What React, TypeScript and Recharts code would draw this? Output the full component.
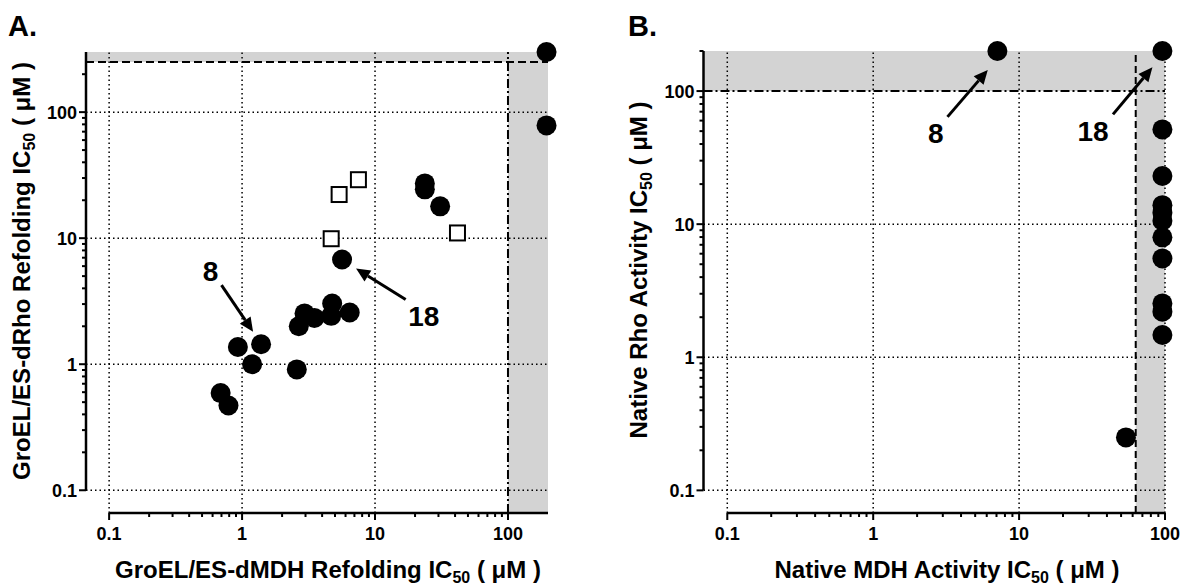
import { ScatterChart, Scatter, XAxis, YAxis, ReferenceLine, ReferenceArea, ReferenceDot } from 'recharts'

const FONT = '"Liberation Sans", Arial, Helvetica, sans-serif'
const GREY = '#d3d3d3'

// Panel A: GroEL/ES-dMDH (x) vs GroEL/ES-dRho (y) refolding IC50, uM
const aDotX = [0.69, 0.79, 0.93, 1.19, 1.39, 2.58, 2.67, 2.95, 3.5, 4.68, 4.76, 6.45, 5.65, 23.7, 23.7, 30.9, 195, 195]
const aDotY = [0.59, 0.47, 1.37, 1.0, 1.44, 0.91, 2.0, 2.53, 2.33, 2.42, 3.03, 2.57, 6.77, 27.2, 24.4, 17.9, 300, 78.5]
const aSquareX = [4.68, 5.37, 7.5, 41.7]
const aSquareY = [9.9, 22.2, 29.1, 11]

// Panel B: native MDH (x) vs native Rho (y) activity IC50, uM
const bDotX = [7.1, 96, 96, 96, 96, 96, 96, 96, 96, 96, 96, 96, 54]
const bDotY = [200, 200, 51.5, 23, 13.9, 12.2, 10.6, 7.96, 5.53, 2.54, 2.2, 1.47, 0.25]

// axes
const aXDomain = [0.067, 200]
const aYDomain = [0.066, 300]
const bXDomain = [0.0687, 100]
const bYDomain = [0.0676, 200]

const majorTicks = [0.1, 1, 10, 100]
const majorLabels = ['0.1', '1', '10', '100']
const ticksTo100 = [
  0.1, 0.2, 0.3, 0.4, 0.5, 0.6, 0.7, 0.8, 0.9,
  1, 2, 3, 4, 5, 6, 7, 8, 9,
  10, 20, 30, 40, 50, 60, 70, 80, 90,
  100,
]
const ticksTo200 = [...ticksTo100, 200]

// cut-offs / shaded regions
const aCutX = 100
const aCutY = 250
const bCutX = 63
const bCutY = 100

// annotations: [label x, label y], arrow tail -> tip
const aLabel8 = { x: 0.578, y: 5.4 }
const aArrow8 = [{ x: 0.7, y: 4.24 }, { x: 1.21, y: 1.81 }]
const aLabel18 = { x: 23.3, y: 2.38 }
const aArrow18 = [{ x: 17, y: 3.26 }, { x: 7.2, y: 5.74 }]
const bLabel8 = { x: 2.69, y: 48 }
const bArrow8 = [{ x: 3.23, y: 64 }, { x: 6.1, y: 144 }]
const bLabel18 = { x: 32.1, y: 49.4 }
const bArrow18 = [{ x: 44, y: 66.8 }, { x: 82, y: 150.7 }]

const zip = (xs: number[], ys: number[]) => xs.map((x, i) => ({ x, y: ys[i] }))

const labelOf = (v: number) => {
  const i = majorTicks.indexOf(v)
  return i >= 0 ? majorLabels[i] : null
}

const XTick = (p: any) => {
  const lab = labelOf(p.payload.value)
  return (
    <g>
      <line x1={p.x} x2={p.x} y1={p.y} y2={p.y + (lab ? 7 : 4)} stroke="#000" strokeWidth={2} />
      {lab && (
        <text x={p.x} y={p.y + 27} textAnchor="middle" fontFamily={FONT} fontWeight="bold" fontSize={18} fill="#000">
          {lab}
        </text>
      )}
    </g>
  )
}

const YTick = (p: any) => {
  const lab = labelOf(p.payload.value)
  return (
    <g>
      <line x1={p.x - (lab ? 7 : 4)} x2={p.x} y1={p.y} y2={p.y} stroke="#000" strokeWidth={2} />
      {lab && (
        <text x={p.x - 9} y={p.y + 6.5} textAnchor="end" fontFamily={FONT} fontWeight="bold" fontSize={18} fill="#000">
          {lab}
        </text>
      )}
    </g>
  )
}

const Dot = (p: any) => <circle cx={p.cx} cy={p.cy} r={10} fill="#000" />
const Square = (p: any) => (
  <rect x={p.cx - 7.5} y={p.cy - 7.5} width={15} height={15} fill="#fff" stroke="#000" strokeWidth={2} />
)

const Arrow = (p: any) => {
  const { x1, y1, x2, y2 } = p
  const a = Math.atan2(y2 - y1, x2 - x1)
  const len = 14
  const half = 6.5
  const bx = x2 - len * Math.cos(a)
  const by = y2 - len * Math.sin(a)
  const px = -Math.sin(a) * half
  const py = Math.cos(a) * half
  return (
    <g>
      <line x1={x1} y1={y1} x2={bx} y2={by} stroke="#000" strokeWidth={3} />
      <polygon points={`${x2},${y2} ${bx + px},${by + py} ${bx - px},${by - py}`} fill="#000" />
    </g>
  )
}

const numLabel = (txt: string) => (p: any) => (
  <text x={p.cx} y={p.cy} textAnchor="middle" dominantBaseline="central" fontFamily={FONT} fontWeight="bold" fontSize={28} fill="#000">
    {txt}
  </text>
)

const Title = ({ x, y, rotate, text }: { x: number; y: number; rotate?: boolean; text: string }) => (
  <text
    transform={`translate(${x},${y})${rotate ? ' rotate(-90)' : ''}`}
    textAnchor="middle"
    fontFamily={FONT}
    fontWeight="bold"
    fontSize={24}
    fill="#000"
  >
    {text}
    <tspan fontSize={16} dy={5}>50</tspan>
    <tspan dy={-5}> ( μM )</tspan>
  </text>
)

const PanelLetter = ({ x, text }: { x: number; text: string }) => (
  <text x={x} y={36} fontFamily={FONT} fontWeight="bold" fontSize={29} fill="#000">
    {text}
  </text>
)

const dotted = { stroke: '#000', strokeWidth: 1.5, strokeDasharray: '1.5 3' }

function PanelA() {
  return (
    <ScatterChart width={590} height={585} margin={{ top: 52, right: 42, bottom: 0, left: 0 }}>
      <XAxis
        type="number"
        dataKey="x"
        scale="log"
        domain={aXDomain}
        ticks={ticksTo100}
        interval={0}
        tickSize={0}
        tickMargin={0}
        tickLine={false}
        axisLine={false}
        tick={XTick}
        height={72}
        label={() => <Title x={328} y={578} text="GroEL/ES-dMDH Refolding IC" />}
      />
      <YAxis
        type="number"
        dataKey="y"
        scale="log"
        domain={aYDomain}
        ticks={ticksTo200}
        interval={0}
        tickSize={0}
        tickMargin={0}
        tickLine={false}
        axisLine={false}
        tick={YTick}
        width={86}
        label={() => (
          <g>
            <Title x={29.5} y={271} rotate text="GroEL/ES-dRho Refolding IC" />
            <PanelLetter x={8} text="A." />
          </g>
        )}
      />
      <ReferenceArea x1={aCutX} x2={aXDomain[1]} fill={GREY} fillOpacity={1} stroke="none" />
      <ReferenceArea y1={aCutY} y2={aYDomain[1]} fill={GREY} fillOpacity={1} stroke="none" />
      {[0.1, 1, 10].map((v) => (
        <ReferenceLine key={'gx' + v} x={v} {...dotted} />
      ))}
      {majorTicks.map((v) => (
        <ReferenceLine key={'gy' + v} y={v} {...dotted} />
      ))}
      <ReferenceLine x={aCutX} stroke="#000" strokeWidth={2} strokeDasharray="9 3 2 3" />
      <ReferenceLine y={aCutY} stroke="#000" strokeWidth={2} strokeDasharray="8 4" />
      <ReferenceLine
        segment={[{ x: 0.1, y: aYDomain[0] }, { x: aXDomain[1], y: aYDomain[0] }]}
        stroke="#000"
        strokeWidth={2.5}
      />
      <ReferenceLine
        segment={[{ x: aXDomain[0], y: 0.1 }, { x: aXDomain[0], y: aYDomain[1] }]}
        stroke="#000"
        strokeWidth={2.5}
      />
      <ReferenceLine segment={aArrow8} shape={Arrow} />
      <ReferenceLine segment={aArrow18} shape={Arrow} />
      <ReferenceDot x={aLabel8.x} y={aLabel8.y} shape={numLabel('8')} />
      <ReferenceDot x={aLabel18.x} y={aLabel18.y} shape={numLabel('18')} />
      <Scatter data={zip(aDotX, aDotY)} shape={Dot} isAnimationActive={false} />
      <Scatter data={zip(aSquareX, aSquareY)} shape={Square} isAnimationActive={false} />
    </ScatterChart>
  )
}

function PanelB() {
  return (
    <ScatterChart width={593} height={585} margin={{ top: 51, right: 18, bottom: 0, left: 0 }}>
      <XAxis
        type="number"
        dataKey="x"
        scale="log"
        domain={bXDomain}
        ticks={ticksTo100}
        interval={0}
        tickSize={0}
        tickMargin={0}
        tickLine={false}
        axisLine={false}
        tick={XTick}
        height={72}
        label={() => <Title x={357} y={578} text="Native MDH Activity IC" />}
      />
      <YAxis
        type="number"
        dataKey="y"
        scale="log"
        domain={bYDomain}
        ticks={ticksTo200}
        interval={0}
        tickSize={0}
        tickMargin={0}
        tickLine={false}
        axisLine={false}
        tick={YTick}
        width={113.5}
        label={() => (
          <g>
            <Title x={57} y={270} rotate text="Native Rho Activity IC" />
            <PanelLetter x={38} text="B." />
          </g>
        )}
      />
      <ReferenceArea x1={bCutX} x2={bXDomain[1]} fill={GREY} fillOpacity={1} stroke="none" />
      <ReferenceArea y1={bCutY} y2={bYDomain[1]} fill={GREY} fillOpacity={1} stroke="none" />
      {majorTicks.map((v) => (
        <ReferenceLine key={'gx' + v} x={v} {...dotted} />
      ))}
      {[0.1, 1, 10].map((v) => (
        <ReferenceLine key={'gy' + v} y={v} {...dotted} />
      ))}
      <ReferenceLine x={bCutX} stroke="#000" strokeWidth={2} strokeDasharray="7 4" />
      <ReferenceLine y={bCutY} stroke="#000" strokeWidth={2} strokeDasharray="9 3 2 3" />
      <ReferenceLine
        segment={[{ x: 0.1, y: bYDomain[0] }, { x: bXDomain[1], y: bYDomain[0] }]}
        stroke="#000"
        strokeWidth={2.5}
      />
      <ReferenceLine
        segment={[{ x: bXDomain[0], y: 0.1 }, { x: bXDomain[0], y: bYDomain[1] }]}
        stroke="#000"
        strokeWidth={2.5}
      />
      <ReferenceLine segment={bArrow8} shape={Arrow} />
      <ReferenceLine segment={bArrow18} shape={Arrow} />
      <ReferenceDot x={bLabel8.x} y={bLabel8.y} shape={numLabel('8')} />
      <ReferenceDot x={bLabel18.x} y={bLabel18.y} shape={numLabel('18')} />
      <Scatter data={zip(bDotX, bDotY)} shape={Dot} isAnimationActive={false} />
    </ScatterChart>
  )
}

export default function App() {
  return (
    <div style={{ position: 'absolute', left: 0, top: 0, width: 1183, height: 585, background: '#fff' }}>
      <div style={{ position: 'absolute', left: 0, top: 0 }}>
        <PanelA />
      </div>
      <div style={{ position: 'absolute', left: 590, top: 0 }}>
        <PanelB />
      </div>
    </div>
  )
}
